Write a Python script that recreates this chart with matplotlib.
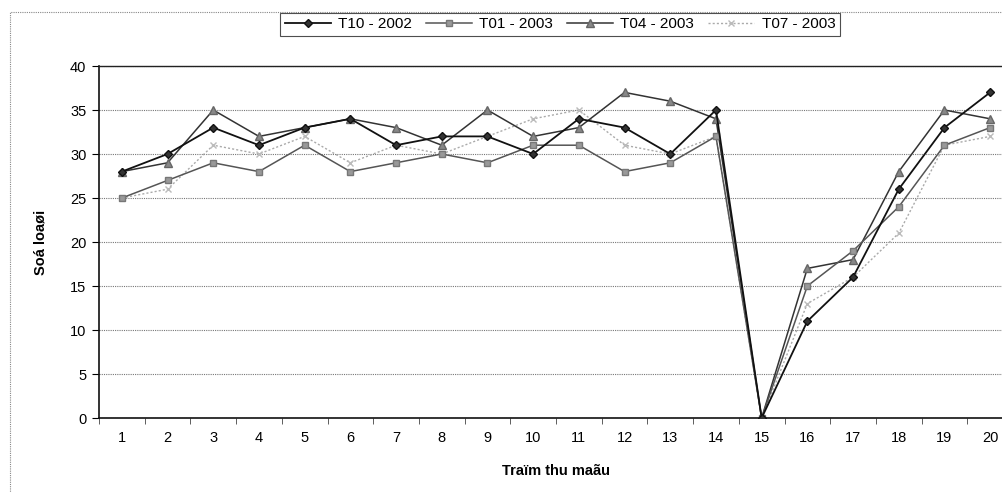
import matplotlib
matplotlib.use("Agg")
import matplotlib.pyplot as plt
from matplotlib.patches import Rectangle
from matplotlib.ticker import MultipleLocator, FixedLocator

plt.rcParams['font.family'] = ['Liberation Sans', 'DejaVu Sans']

stations = list(range(1, 21))
t10_2002 = [28, 30, 33, 31, 33, 34, 31, 32, 32, 30, 34, 33, 30, 35, 0, 11, 16, 26, 33, 37]
t01_2003 = [25, 27, 29, 28, 31, 28, 29, 30, 29, 31, 31, 28, 29, 32, 0, 15, 19, 24, 31, 33]
t04_2003 = [28, 29, 35, 32, 33, 34, 33, 31, 35, 32, 33, 37, 36, 34, 0, 17, 18, 28, 35, 34]
t07_2003 = [25, 26, 31, 30, 32, 29, 31, 30, 32, 34, 35, 31, 30, 32, 0, 13, 16, 21, 31, 32]
series_names = ["T10 - 2002", "T01 - 2003", "T04 - 2003", "T07 - 2003"]
y_ticks = [0, 5, 10, 15, 20, 25, 30, 35, 40]

fig = plt.figure(figsize=(10.03, 4.92), dpi=100)
W, H = 1003, 492
ax = fig.add_axes([99 / W, 74 / H, 914 / W, 352 / H])

# outer chart border
fig.patches.append(Rectangle((10 / W, -0.1), 1.2, (492 - 12) / H + 0.1,
                             transform=fig.transFigure, fill=False,
                             edgecolor='#888888', linestyle=(0, (1, 1)),
                             linewidth=0.8))

ax.plot(stations, t10_2002, color='#111111', lw=1.3, marker='D', ms=4,
        mfc='#333333', mec='#111111', label=series_names[0], zorder=5)
ax.plot(stations, t01_2003, color='#555555', lw=1.1, marker='s', ms=4.5,
        mfc='#999999', mec='#777777', label=series_names[1], zorder=4)
ax.plot(stations, t04_2003, color='#333333', lw=1.1, marker='^', ms=5.5,
        mfc='#888888', mec='#666666', label=series_names[2], zorder=3)
ax.plot(stations, t07_2003, color='#aaaaaa', lw=1.0, ls=(0, (1.5, 1.5)),
        marker='x', ms=4, mec='#bbbbbb', label=series_names[3], zorder=2)

ax.set_xlim(0.5, 20.5)
ax.set_ylim(0, 40)
ax.yaxis.set_major_locator(FixedLocator(y_ticks))
ax.yaxis.grid(True, color='#777777', linestyle=(0, (1, 1)), linewidth=0.8)
ax.set_axisbelow(True)

ax.xaxis.set_major_locator(FixedLocator(stations))
ax.xaxis.set_minor_locator(MultipleLocator(1, offset=0.5))
ax.tick_params(axis='x', which='major', length=0, pad=9, labelsize=10.5)
ax.tick_params(axis='x', which='minor', length=4, direction='out', color='#444444')
ax.tick_params(axis='y', length=5, direction='out', labelsize=10.5, pad=4)

for side in ['left', 'bottom']:
    ax.spines[side].set_color('#111111')
    ax.spines[side].set_linewidth(1.2)
ax.spines['top'].set_color('#222222')
ax.spines['top'].set_linewidth(1.0)
ax.spines['right'].set_visible(False)

ax.set_xlabel("Traïm thu maãu", fontsize=10.5, fontweight='bold', labelpad=14)
ax.set_ylabel("Soá loaøi", fontsize=10.5, fontweight='bold', labelpad=16)

leg = fig.legend(loc='center', bbox_to_anchor=(560 / W, 1 - 24.5 / H), ncol=4,
                 frameon=True, fancybox=False, edgecolor='#222222',
                 fontsize=11, handlelength=3.0, handletextpad=0.5,
                 columnspacing=0.9, borderpad=0.3, borderaxespad=0)
leg.get_frame().set_linewidth(0.8)

fig.savefig("out.png", dpi=100)
